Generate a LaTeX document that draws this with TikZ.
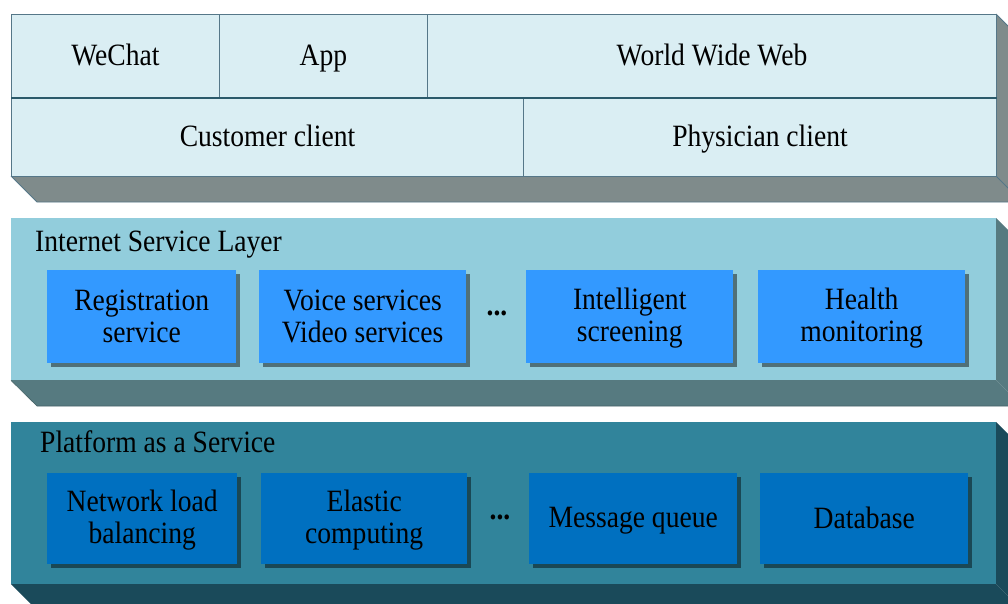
\documentclass[tikz,border=0pt]{standalone}
\usepackage{fontspec}
\setmainfont{Liberation Serif}[FakeStretch=0.89]
\usetikzlibrary{shadows}
\definecolor{topfront}{HTML}{DAEEF3}
\definecolor{topside}{HTML}{7F8B8B}
\definecolor{topline}{HTML}{557788}
\definecolor{topsep}{HTML}{2B5A6A}
\definecolor{midfront}{HTML}{92CDDC}
\definecolor{midside}{HTML}{567A80}
\definecolor{midbox}{HTML}{3399FF}
\definecolor{lowfront}{HTML}{31849B}
\definecolor{lowside}{HTML}{1A4A5A}
\definecolor{lowbox}{HTML}{0070C0}
\newcommand{\ls}{\rule[-6pt]{0pt}{31pt}}
\tikzset{
  txt/.style={font=\fontsize{31}{32}\selectfont, text=black, align=center, inner sep=0pt},
  cell/.style={txt, draw=topline, line width=1pt, fill=topfront},
  face/.style={draw=none, inner sep=0pt, anchor=north west},
  ibox/.style={txt, anchor=north west, drop shadow={shadow xshift=4pt, shadow yshift=-4pt, opacity=0.45, fill=black}},
  lbl/.style={txt, anchor=west},
  dots/.style={txt, font=\fontsize{31}{32}\selectfont\bfseries},
}
\begin{document}
\begin{tikzpicture}[x=1pt,y=-1pt]
\useasboundingbox (0,0) rectangle (1008,603);
\clip (0,0) rectangle (1008,603);
% ---------- top layer ----------
\fill[topside] (11,176) -- (37,202) -- (1022,202) -- (996,176) -- cycle;
\fill[topside] (996,14) -- (1022,40) -- (1022,202) -- (996,176) -- cycle;
\draw[topline, line width=0.8pt] (11,176) -- (37,202) -- (1022,202);
\draw[topline, line width=0.8pt] (996,176) -- (1022,202);
\draw[topline, line width=0.8pt] (996,14) -- (1022,40);
\node[cell, minimum width=208pt, minimum height=83pt, anchor=north west] (wechat) at (11,14) {\ls WeChat};
\node[cell, minimum width=208pt, minimum height=83pt, anchor=north west] (app) at (219,14) {\ls App};
\node[cell, minimum width=569pt, minimum height=83pt, anchor=north west] (www) at (427,14) {\ls World Wide Web};
\node[cell, minimum width=512pt, minimum height=79pt, anchor=north west] (customer) at (11,97) {\ls Customer client};
\node[cell, minimum width=473pt, minimum height=79pt, anchor=north west] (physician) at (523,97) {\ls Physician client};
\draw[topsep, line width=2pt] (wechat.south west) -- (www.south east);
% ---------- internet service layer ----------
\fill[midside] (11,380) -- (37,406) -- (1022,406) -- (996,380) -- cycle;
\fill[midside] (996,218) -- (1022,244) -- (1022,406) -- (996,380) -- cycle;
\node[face, fill=midfront, minimum width=985pt, minimum height=162pt] (isl) at (11,218) {};
\draw[midside!80!black, line width=0.6pt] (isl.south west) -- (37,406) -- (1022,406);
\node[lbl] (isllabel) at (35,242) {\ls Internet Service Layer};
\node[ibox, fill=midbox, minimum width=189pt, minimum height=93pt] (reg) at (47,270) {\ls Registration\\\ls service};
\node[ibox, fill=midbox, minimum width=207pt, minimum height=93pt] (voice) at (259,270) {\ls Voice services\\\ls Video services};
\node[dots] (dots1) at (497,313) {...};
\node[ibox, fill=midbox, minimum width=207pt, minimum height=93pt] (intel) at (526,270) {\ls Intelligent\\\ls screening};
\node[ibox, fill=midbox, minimum width=207pt, minimum height=93pt] (health) at (758,270) {\ls Health\\\ls monitoring};
% ---------- platform as a service ----------
\fill[lowside] (11,584) -- (37,610) -- (1022,610) -- (996,584) -- cycle;
\fill[lowside] (996,422) -- (1022,448) -- (1022,610) -- (996,584) -- cycle;
\node[face, fill=lowfront, minimum width=985pt, minimum height=162pt] (paas) at (11,422) {};
\node[lbl] (paaslabel) at (40,443) {\ls Platform as a Service};
\node[ibox, fill=lowbox, minimum width=190pt, minimum height=91pt] (nlb) at (47,473) {\ls Network load\\\ls balancing};
\node[ibox, fill=lowbox, minimum width=206pt, minimum height=91pt] (elastic) at (261,473) {\ls Elastic\\\ls computing};
\node[dots] (dots2) at (500,517) {...};
\node[ibox, fill=lowbox, minimum width=208pt, minimum height=91pt] (mq) at (529,473) {\ls Message queue};
\node[ibox, fill=lowbox, minimum width=208pt, minimum height=91pt] (db) at (760,473) {\ls Database};
\end{tikzpicture}
\end{document}
